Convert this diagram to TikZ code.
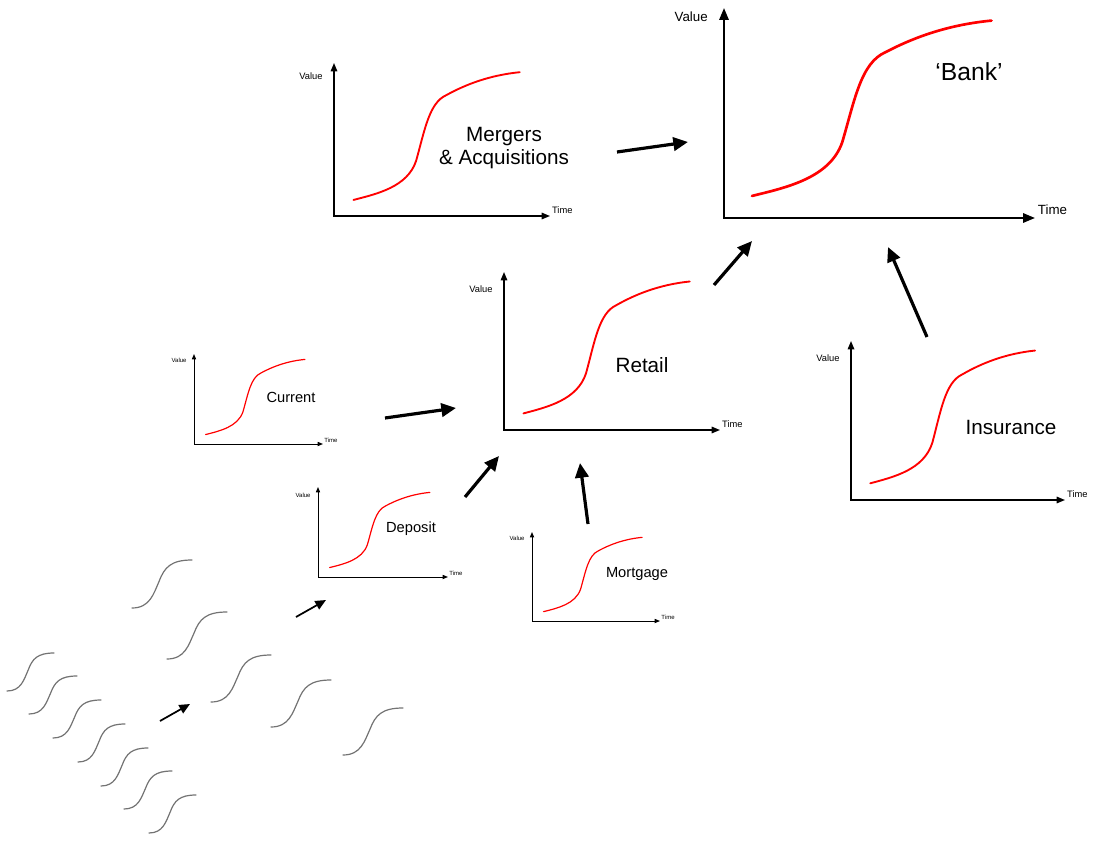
\documentclass[tikz,border=0pt]{standalone}
\usepackage{fontspec}
\setmainfont{Liberation Sans}
\usetikzlibrary{arrows.meta}

% value/time chart: origin x, origin y, width, height, size, drop of "Value"
\newcommand{\vtchart}[6]{%
  \pgfmathsetmacro\axfs{10*#5}%
  \begin{scope}[shift={(#1,#2)}, x=#3*0.75pt, y=#4*0.75pt]
    \draw[line width=1.6pt*#5, {Triangle[length=9pt*#5, width=7pt*#5]}-{Triangle[length=9pt*#5, width=7pt*#5]}]
      (0,1) -- (0,0) -- (1,0);
    \draw[scurve, line width=2pt*#5] (0.09,0.105) .. controls (0.20,0.145) and (0.34,0.19) .. (0.38,0.36)
      .. controls (0.42,0.56) and (0.44,0.74) .. (0.52,0.79)
      .. controls (0.61,0.86) and (0.72,0.92) .. (0.86,0.94);
    \node[anchor=east, inner sep=0, font=\fontsize{\axfs}{\axfs}\selectfont,
      xshift=-12pt*#5, yshift=-#6*0.75pt] at (0,1) {Value};
    \node[anchor=base west, inner sep=0, font=\fontsize{\axfs}{\axfs}\selectfont,
      xshift=2pt*#5, yshift=2.5pt*#5] at (1,0) {Time};
  \end{scope}}

\begin{document}
\begin{tikzpicture}[
    x=0.75pt, y=-0.75pt,
    scurve/.style={red, line cap=round},
    loosecurve/.style={black!55, line width=0.9pt, line cap=round},
    bigarr/.style={line width=2.4pt, -{Triangle[length=11pt, width=10pt]}},
    smallarr/.style={line width=1.3pt, -{Triangle[length=8pt, width=7pt]}},
    biglabel/.style={font=\fontsize{15.5pt}{17.5pt}\selectfont, align=center},
    smalllabel/.style={font=\fontsize{11pt}{13pt}\selectfont}
  ]
  \useasboundingbox (0,0) rectangle (1095,842);

  % charts
  \vtchart{724}{218}{311}{210}{1}{9}
  \vtchart{334}{216}{216}{153}{0.7}{13}
  \vtchart{504}{430}{216}{158}{0.7}{17}
  \vtchart{851}{500}{214}{159}{0.7}{17}
  \vtchart{194}{444}{129}{90}{0.45}{6}
  \vtchart{318}{577}{130}{90}{0.45}{8}
  \vtchart{532}{621}{128}{89}{0.45}{6}

  \node[font=\fontsize{18.5pt}{22pt}\selectfont] (bank) at (969,72) {`Bank'};
  \node[biglabel] (ma) at (504,148) {Mergers\\\& Acquisitions};
  \node[biglabel] (retail) at (642,365) {Retail};
  \node[biglabel] (insurance) at (1011,427) {Insurance};
  \node[smalllabel] (current) at (291,397) {Current};
  \node[smalllabel] (deposit) at (411,529) {Deposit};
  \node[smalllabel] (mortgage) at (637,574) {Mortgage};

  % loose curves
  \foreach \gx/\gy/\gw/\gh in {132/608/60/48, 167/659/60/47, 211/702/60/47, 271/727/60/47,
      343/755/60/47, 7/691/47/38, 29/714/48/38, 53/738/48/38, 78/762/47/38,
      101/786/47/38, 124/809/48/38, 149/833/47/38}{
    \begin{scope}[shift={(\gx,\gy)}, x=\gw*0.75pt, y=\gh*0.75pt]
      \draw[loosecurve] (0,0) .. controls (0.3,0) and (0.36,0.3) .. (0.45,0.55)
        .. controls (0.54,0.85) and (0.65,1) .. (1,1);
    \end{scope}
  }

  % arrow ends
  \coordinate (ma-out) at (617,152);
  \coordinate (bank-w) at (688,142);
  \coordinate (retail-out) at (714,285);
  \coordinate (bank-sw) at (752,241);
  \coordinate (ins-out) at (927,337);
  \coordinate (bank-s) at (888,247);
  \coordinate (cur-out) at (385,418);
  \coordinate (retail-w) at (456,408);
  \coordinate (dep-out) at (465,497);
  \coordinate (retail-sw) at (499,456);
  \coordinate (mort-out) at (588,524);
  \coordinate (retail-s) at (580,463);
  \coordinate (loose-out) at (296,617);
  \coordinate (dep-sw) at (326,600);
  \coordinate (pile-out) at (160,721);
  \coordinate (pile-in) at (190,704);

  \draw[bigarr] (ma-out) -- (bank-w);
  \draw[bigarr] (retail-out) -- (bank-sw);
  \draw[bigarr] (ins-out) -- (bank-s);
  \draw[bigarr] (cur-out) -- (retail-w);
  \draw[bigarr] (dep-out) -- (retail-sw);
  \draw[bigarr] (mort-out) -- (retail-s);
  \draw[smallarr] (loose-out) -- (dep-sw);
  \draw[smallarr] (pile-out) -- (pile-in);
\end{tikzpicture}
\end{document}
